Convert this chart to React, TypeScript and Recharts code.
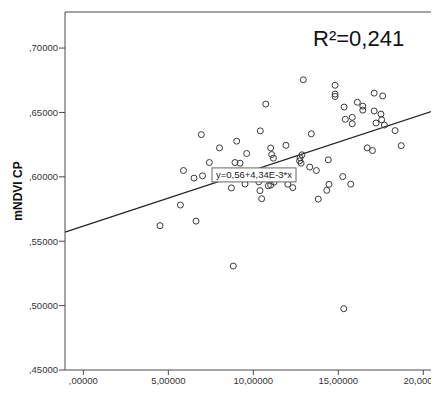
import { ReferenceDot, ReferenceLine, Scatter, ScatterChart, XAxis, YAxis } from "recharts";

const ctcEfet = [
  12.94, 14.81, 14.81, 14.81, 17.11, 17.61, 10.73, 15.34, 16.12, 16.44, 16.44, 17.11, 17.51,
  15.41, 15.82, 15.82, 17.22, 17.55, 17.71, 18.34, 18.7, 16.7, 17.01, 13.41, 10.41, 11.92,
  9.02, 8.01, 9.61, 11.02, 11.08, 11.18, 12.86, 12.75, 12.72, 12.81, 14.41, 13.32, 13.71,
  6.94, 7.41, 8.92, 9.22, 7.01, 5.89, 6.51, 8.71, 9.51, 10.32, 10.39, 10.49, 10.88, 11.02,
  11.22, 12.03, 12.32, 15.26, 15.73, 14.45, 14.32, 13.82, 5.71, 4.51, 6.63, 8.82, 15.32,
];

const mndviCp = [
  0.6754, 0.6711, 0.6643, 0.6624, 0.665, 0.6628, 0.6565, 0.6542, 0.6579, 0.6549, 0.6518, 0.6511, 0.6487,
  0.6447, 0.6462, 0.6412, 0.6418, 0.6443, 0.6402, 0.6359, 0.6242, 0.6225, 0.6204, 0.6334, 0.6357, 0.6245,
  0.6277, 0.6225, 0.6181, 0.6224, 0.6173, 0.6145, 0.6171, 0.6148, 0.6124, 0.6106, 0.6132, 0.6076, 0.6049,
  0.6328, 0.6111, 0.6111, 0.6106, 0.6008, 0.6049, 0.599, 0.5914, 0.5944, 0.5961, 0.5893, 0.583, 0.5931, 0.5936,
  0.5959, 0.5943, 0.5916, 0.6002, 0.5943, 0.5942, 0.5895, 0.5827, 0.5781, 0.5621, 0.5656, 0.5307, 0.4976,
];

const xTicks = [0, 5, 10, 15, 20];
const yTicks = [0.45, 0.5, 0.55, 0.6, 0.65, 0.7];

const xDomain: [number, number] = [-1.08, 21.1];
const yDomain: [number, number] = [0.45, 0.728];

// fitted line (label shows rounded coefficients)
const fitIntercept = 0.5618;
const fitSlope = 0.00434;
const fitLabel = "y=0,56+4,34E-3*x";
const fitLabelAt = 10.04;
const rSquared = "R²=0,241";

const points = ctcEfet.map((x, i) => ({ x, y: mndviCp[i] }));
const fit = (x: number) => fitIntercept + fitSlope * x;

const font = "'Liberation Sans', Arial, sans-serif";
const axisColor = "#4a4a4a";

const spssNumber = (v: number) => {
  const s = v.toFixed(5).replace(".", ",");
  return s.startsWith("0,") ? s.slice(1) : s;
};

function FitLabel(props: any) {
  const { cx, cy } = props;
  const w = 84;
  const h = 14;
  return (
    <g>
      <rect x={cx - w / 2} y={cy - 2} width={w} height={h} fill="#fff" stroke="#666" strokeWidth={1} />
      <text x={cx} y={cy + 5} textAnchor="middle" dominantBaseline="central" fontSize={9.5} fontFamily={font} fill="#222">
        {fitLabel}
      </text>
    </g>
  );
}

function YLabel(props: any) {
  const vb = props.viewBox;
  const cy = vb.y + vb.height / 2;
  const x = 9.5;
  return (
    <text
      x={x}
      y={cy}
      transform={`rotate(-90 ${x} ${cy})`}
      textAnchor="middle"
      dominantBaseline="central"
      fontSize={12}
      fontWeight="bold"
      fontFamily={font}
      fill="#111"
    >
      mNDVI CP
    </text>
  );
}

export default function App() {
  return (
    <div style={{ position: "relative", width: 431, height: 399, overflow: "hidden", marginBottom: -16 }}>
      <ScatterChart width={434} height={399} margin={{ top: 4, right: 0, left: 0, bottom: 0 }}>
        <XAxis
          type="number"
          dataKey="x"
          domain={xDomain}
          ticks={xTicks}
          allowDataOverflow
          height={37}
          tickFormatter={spssNumber}
          tick={{ fontSize: 9.5, fill: "#333", fontFamily: font }}
          tickSize={5}
          tickMargin={2}
          stroke={axisColor}
          label={{
            value: "CTC Efet. (0.20cm)",
            position: "insideBottom",
            offset: 6,
            style: { fontSize: 12, fontWeight: "bold", fontFamily: font, fill: "#111" },
          }}
        />
        <YAxis
          type="number"
          dataKey="y"
          domain={yDomain}
          ticks={yTicks}
          allowDataOverflow
          width={57}
          tickFormatter={spssNumber}
          tick={{ fontSize: 9.5, fill: "#333", fontFamily: font }}
          tickSize={6}
          tickMargin={1}
          stroke={axisColor}
          label={<YLabel />}
        />
        <ReferenceLine y={yDomain[1]} stroke={axisColor} strokeWidth={1} />
        <ReferenceLine
          segment={[
            { x: xDomain[0], y: fit(xDomain[0]) },
            { x: xDomain[1], y: fit(xDomain[1]) },
          ]}
          stroke="#222"
          strokeWidth={1.2}
        />
        <Scatter
          data={points}
          isAnimationActive={false}
          shape={(p: any) => <circle cx={p.cx} cy={p.cy} r={3} fill="none" stroke="#3a3a3a" strokeWidth={1} />}
        />
        <ReferenceDot x={fitLabelAt} y={fit(fitLabelAt)} r={0} shape={FitLabel} />
      </ScatterChart>
      <div
        style={{
          position: "absolute",
          left: 305,
          top: 20,
          fontFamily: font,
          fontSize: 22,
          lineHeight: "22px",
          color: "#111",
          whiteSpace: "nowrap",
        }}
      >
        {rSquared}
      </div>
    </div>
  );
}
